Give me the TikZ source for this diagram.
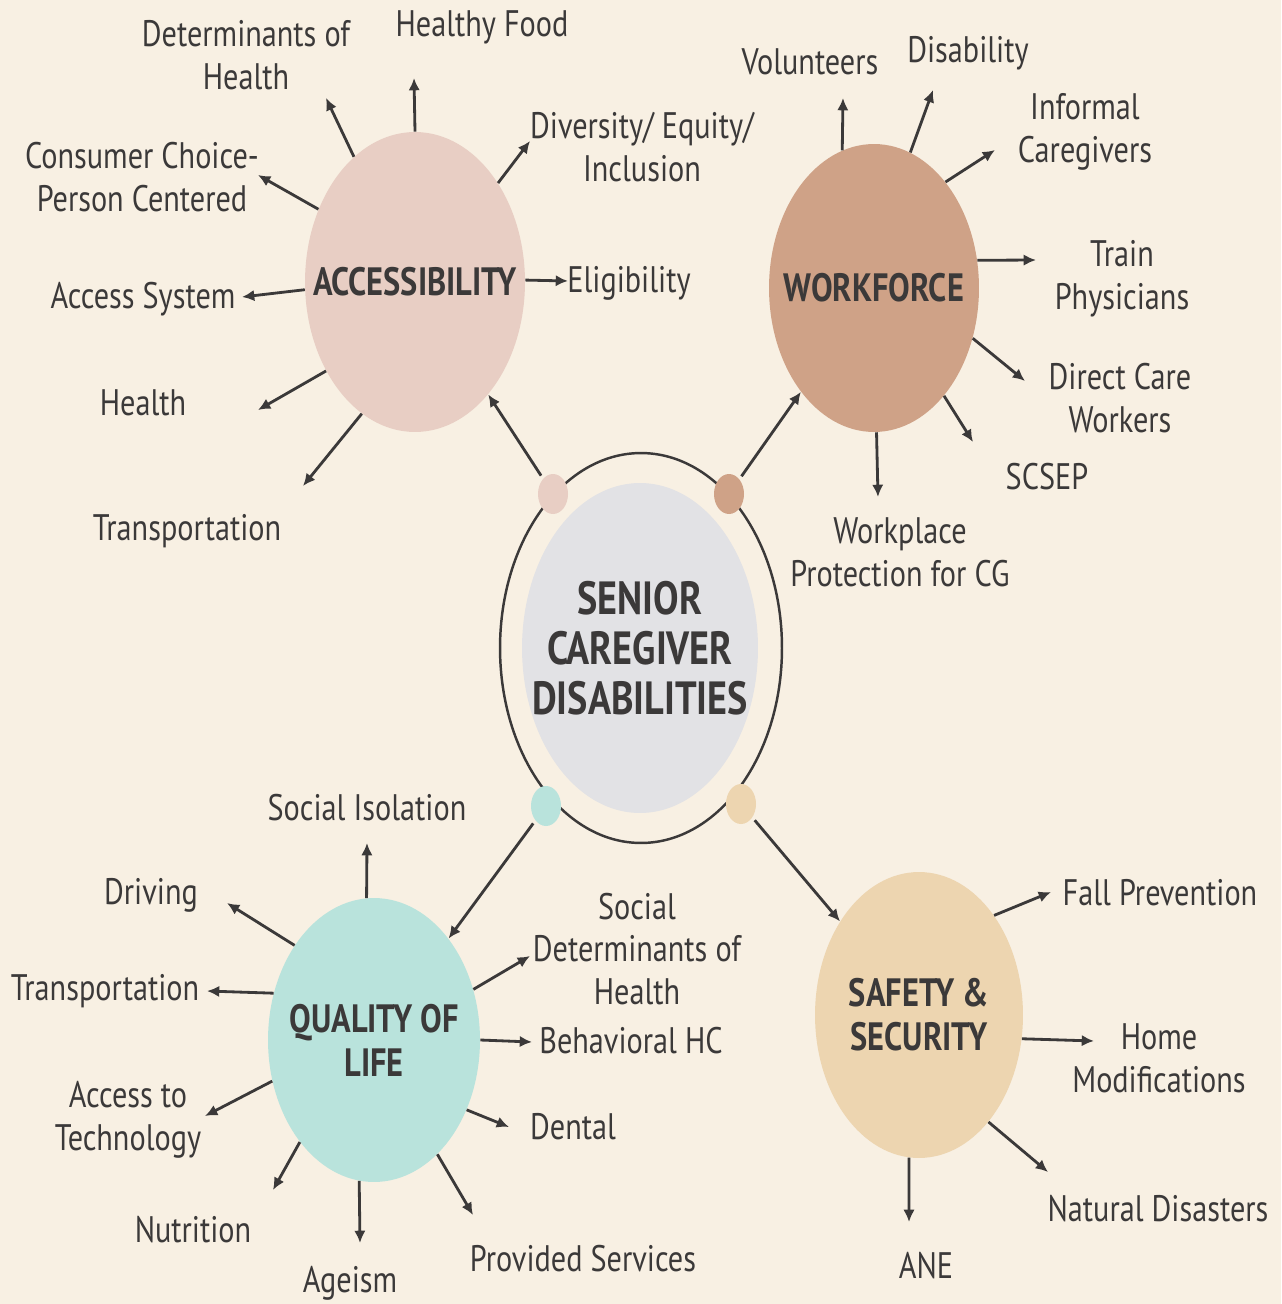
\documentclass[tikz,border=0pt]{standalone}
\usepackage{fontspec}
\setmainfont{PT Sans}[FakeStretch=0.82]
\usetikzlibrary{shapes.geometric,arrows.meta}
\definecolor{paper}{HTML}{F8F0E3}
\definecolor{ink}{HTML}{3B3939}
\definecolor{pinkish}{HTML}{E8CEC4}
\definecolor{clay}{HTML}{CFA287}
\definecolor{mint}{HTML}{B9E3DC}
\definecolor{sand}{HTML}{EDD5B0}
\definecolor{mist}{HTML}{E2E2E5}
\tikzset{
  bubble/.style 2 args={ellipse, inner sep=0pt, minimum width=#1, minimum height=#2},
  title/.style={font=\fontsize{22.5}{25}\selectfont\bfseries, text=ink, align=center},
  lbl/.style={font=\fontsize{21}{24.4}\selectfont, text=ink, align=center, inner sep=0pt},
  spoke/.style={draw=ink, line width=1.6pt, -{Latex[length=7pt,width=6.5pt]}},
  dotlink/.style={spoke, shorten <=2pt}
}
\begin{document}
\begin{tikzpicture}[x=0.02cm,y=-0.02cm]
\useasboundingbox (0,0) rectangle (1281,1304);
\fill[paper] (0,0) rectangle (1281,1304);
% centre and ring
\node[bubble={5.64cm}{7.8cm}, draw=ink, line width=1.4pt] (ring) at (641,648) {};
\node[bubble={4.72cm}{6.6cm}, fill=mist,
  label={[title, font=\fontsize{26.5}{28.5}\selectfont\bfseries]center:SENIOR\\CAREGIVER\\DISABILITIES}] (core) at (640,648) {};
\node[bubble={0.6cm}{0.8cm}, fill=pinkish] (dA) at (553,494) {};
\node[bubble={0.6cm}{0.8cm}, fill=clay] (dW) at (729,494) {};
\node[bubble={0.6cm}{0.8cm}, fill=mint] (dQ) at (546,806) {};
\node[bubble={0.6cm}{0.8cm}, fill=sand] (dS) at (741,804) {};
% the four themes
\node[bubble={4.4cm}{6cm}, fill=pinkish, label={[title]center:ACCESSIBILITY}] (acc) at (415,282) {};
\node[bubble={4.2cm}{5.76cm}, fill=clay, label={[title]center:WORKFORCE}] (work) at (874,288) {};
\node[bubble={4.24cm}{5.68cm}, fill=mint, label={[title]center:QUALITY OF\\LIFE}] (qol) at (374,1040) {};
\node[bubble={4.16cm}{5.72cm}, fill=sand, label={[title]center:SAFETY \&\\SECURITY}] (safe) at (919,1015) {};
\draw[dotlink] (dA) -- (acc);
\draw[dotlink] (dW) -- (work);
\draw[dotlink] (dQ) -- (qol);
\draw[dotlink] (dS) -- (safe);
% accessibility
\node[lbl] (lDet) at (246,55) {Determinants of\\Health};
\node[lbl] (lFood) at (482,27) {Healthy Food};
\node[lbl] (lDiv) at (642,147) {Diversity/ Equity/\\Inclusion};
\node[lbl] (lCons) at (142,177) {Consumer Choice-\\Person Centered};
\node[lbl] (lElig) at (629,283) {Eligibility};
\node[lbl] (lAccSys) at (143,299) {Access System};
\node[lbl] (lHealth) at (143,403) {Health};
\node[lbl] (lTrans) at (187,531) {Transportation};
\coordinate (tDet) at (326,98);
\coordinate (tFood) at (414,78);
\coordinate (tDiv) at (530,141);
\coordinate (tCons) at (258,175);
\coordinate (tElig) at (568,281);
\coordinate (tAccSys) at (242,297);
\coordinate (tHealth) at (258,410);
\coordinate (tTrans) at (303,486);
\foreach \a/\t in {116/tDet,90/tFood,50/tDiv,143/tCons,1/tElig,184/tAccSys,225/tHealth,248/tTrans}
  \draw[spoke] (acc.\a) -- (\t);
% workforce
\node[lbl] (lVol) at (810,62) {Volunteers};
\node[lbl] (lDisab) at (968,53) {Disability};
\node[lbl] (lInf) at (1085,132) {Informal\\Caregivers};
\node[lbl] (lTrain) at (1122,279) {Train\\Physicians};
\node[lbl] (lDirect) at (1120,398) {Direct Care\\Workers};
\node[lbl] (lScsep) at (1047,477) {SCSEP};
\node[lbl] (lPlace) at (900,552) {Workplace\\Protection for CG};
\coordinate (tVol) at (843,98);
\coordinate (tDisab) at (933,90);
\coordinate (tInf) at (995,150);
\coordinate (tTrain) at (1036,260);
\coordinate (tDirect) at (1025,381);
\coordinate (tScsep) at (973,442);
\coordinate (tPlace) at (878,497);
\foreach \a/\t in {103/tVol,75/tDisab,56/tInf,15/tTrain,-27/tDirect,-57/tScsep,271.5/tPlace}
  \draw[spoke] (work.\a) -- (\t);
% quality of life
\node[lbl] (lIso) at (367,808) {Social Isolation};
\node[lbl] (lDrive) at (151,895) {Driving};
\node[lbl] (lTransQ) at (105,991) {Transportation};
\node[lbl] (lSdoh) at (637,949) {Social\\Determinants of\\Health};
\node[lbl] (lBeh) at (631,1041) {Behavioral HC};
\node[lbl] (lTech) at (128,1120) {Access to\\Technology};
\node[lbl] (lDent) at (573,1127) {Dental};
\node[lbl] (lNutr) at (193,1230) {Nutrition};
\node[lbl] (lAge) at (350,1283) {Ageism};
\node[lbl] (lProv) at (583,1259) {Provided Services};
\coordinate (tIso) at (367,843);
\coordinate (tDrive) at (227,903);
\coordinate (tTransQ) at (207,991);
\coordinate (tSdoh) at (530,956);
\coordinate (tBeh) at (532,1042);
\coordinate (tTech) at (205,1116);
\coordinate (tDent) at (509,1127);
\coordinate (tNutr) at (273,1190);
\coordinate (tAge) at (360,1243);
\coordinate (tProv) at (473,1215);
\foreach \a/\t in {93/tIso,130/tDrive,155/tTransQ,27/tSdoh,0/tBeh,202/tTech,-37/tDent,234/tNutr,264/tAge,-61/tProv}
  \draw[spoke] (qol.\a) -- (\t);
% safety and security
\node[lbl] (lFall) at (1160,893) {Fall Prevention};
\node[lbl] (lHome) at (1159,1058) {Home\\Modifications};
\node[lbl] (lNat) at (1158,1209) {Natural Disasters};
\node[lbl] (lAne) at (926,1266) {ANE};
\coordinate (tFall) at (1051,892);
\coordinate (tHome) at (1094,1041);
\coordinate (tNat) at (1048,1172);
\coordinate (tAne) at (909,1222);
\foreach \a/\t in {53/tFall,-13/tHome,-57/tNat,266/tAne}
  \draw[spoke] (safe.\a) -- (\t);
\end{tikzpicture}
\end{document}
